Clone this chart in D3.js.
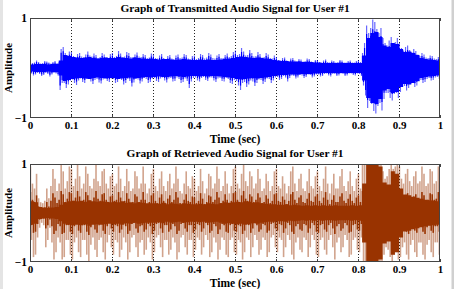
<!DOCTYPE html>
<html>
<head>
<meta charset="utf-8">
<script src="https://cdn.jsdelivr.net/npm/d3@7"></script>
<style>
  html, body { margin: 0; padding: 0; background: #fff; }
  svg { display: block; }
  .lbl { font-family: "Liberation Serif", "Times New Roman", serif; font-weight: bold; fill: #000; }
</style>
</head>
<body>
<div id="chart"></div>
<script>
// time axis ticks (sec)
const xTicks = [0, 0.1, 0.2, 0.3, 0.4, 0.5, 0.6, 0.7, 0.8, 0.9, 1];
const yTicks = [-1, 1];
const coreStep = 0.01;   // core values: one per 0.01 s
const peakStep = 0.005;  // peak values: one per 0.005 s

// transmitted signal (blue)
const txCore = [
  .07,.08,.08,.08,.07,.08,.08,.15,.26,.24, .22,.21,.2,.21,.22,.2,.19,.2,.21,.2,
  .2,.22,.21,.2,.19,.21,.2,.19,.18,.19, .18,.17,.18,.18,.17,.16,.17,.18,.17,.16,
  .16,.17,.16,.17,.16,.16,.17,.18,.19,.2, .22,.23,.22,.21,.2,.21,.2,.19,.18,.16,
  .15,.14,.14,.13,.13,.13,.12,.12,.12,.11, .11,.1,.1,.1,.1,.1,.1,.1,.1,.1,
  .1,.25,.6,.7,.72,.62,.45,.42,.5,.48, .38,.32,.33,.3,.26,.2,.18,.17,.16,.15
];
const txHi = [
  .13,.10,.11,.15,.12,.09,.10,.14,.13,.11,.09,.12,.14,.10,.12,.38,.42,.30,.26,.33,
  .32,.24,.22,.28,.30,.23,.21,.27,.33,.25,.23,.29,.26,.20,.22,.30,.27,.21,.20,.28,
  .30,.22,.24,.34,.29,.21,.23,.32,.30,.22,.21,.27,.31,.23,.22,.28,.26,.20,.21,.29,
  .27,.20,.19,.25,.28,.20,.18,.24,.26,.19,.18,.25,.27,.20,.21,.28,.26,.19,.18,.24,
  .25,.18,.20,.28,.26,.19,.21,.30,.27,.20,.19,.25,.28,.20,.20,.26,.29,.22,.24,.32,
  .35,.26,.28,.40,.33,.25,.26,.36,.30,.23,.24,.32,.28,.21,.22,.30,.27,.20,.19,.25,
  .22,.16,.15,.20,.21,.15,.14,.19,.20,.15,.13,.18,.17,.13,.14,.19,.18,.13,.12,.16,
  .16,.12,.11,.15,.17,.12,.11,.15,.14,.11,.12,.16,.15,.11,.11,.14,.15,.11,.11,.14,
  .15,.12,.30,.50,.85,.70,.80,.97,.92,.78,.70,.80,.60,.50,.45,.55,.62,.50,.52,.60,
  .50,.40,.35,.42,.45,.36,.32,.38,.34,.27,.24,.30,.27,.21,.20,.25,.24,.19,.18,.22
];
const txLo = [
  -.11,-.15,-.13,-.10,-.12,-.16,-.14,-.10,-.12,-.17,-.13,-.10,-.11,-.15,-.44,-.30,-.30,-.40,-.33,-.25,
  -.23,-.30,-.34,-.25,-.21,-.28,-.30,-.22,-.20,-.27,-.32,-.24,-.22,-.29,-.31,-.23,-.20,-.26,-.28,-.21,
  -.22,-.30,-.28,-.21,-.24,-.33,-.30,-.22,-.26,-.37,-.29,-.22,-.23,-.31,-.27,-.20,-.22,-.30,-.28,-.21,
  -.20,-.26,-.28,-.21,-.19,-.25,-.29,-.21,-.20,-.27,-.26,-.19,-.22,-.30,-.28,-.21,-.26,-.40,-.27,-.20,
  -.19,-.25,-.27,-.20,-.18,-.24,-.26,-.19,-.19,-.25,-.28,-.21,-.20,-.26,-.27,-.20,-.22,-.30,-.32,-.24,
  -.26,-.35,-.44,-.30,-.28,-.38,-.33,-.25,-.27,-.36,-.30,-.23,-.24,-.32,-.28,-.21,-.22,-.30,-.25,-.19,
  -.18,-.24,-.22,-.16,-.19,-.27,-.20,-.15,-.16,-.21,-.19,-.14,-.15,-.20,-.18,-.13,-.14,-.19,-.17,-.13,
  -.13,-.17,-.16,-.12,-.11,-.15,-.17,-.12,-.12,-.16,-.15,-.11,-.12,-.16,-.15,-.11,-.11,-.14,-.15,-.11,
  -.12,-.16,-.35,-.55,-.80,-.66,-.72,-.86,-.91,-.76,-.70,-.85,-.62,-.50,-.50,-.60,-.65,-.52,-.50,-.60,
  -.48,-.38,-.36,-.45,-.40,-.32,-.30,-.38,-.35,-.27,-.24,-.30,-.28,-.22,-.20,-.25,-.24,-.19,-.18,-.22
];

// retrieved signal (brown)
const rxCore = [
  .24,.22,.12,.11,.1,.11,.12,.17,.22,.24, .25,.24,.25,.23,.26,.24,.23,.24,.23,.22,
  .23,.22,.24,.21,.22,.2,.22,.21,.2,.2, .2,.19,.21,.18,.2,.19,.18,.2,.19,.18,
  .18,.19,.18,.2,.19,.18,.2,.22,.21,.22, .23,.22,.24,.23,.21,.22,.2,.19,.18,.18,
  .17,.17,.18,.16,.17,.16,.15,.16,.15,.16, .15,.16,.15,.15,.16,.15,.15,.15,.16,.15,
  .16,.6,1,1,1,.95,.62,.58,.85,.8, .5,.38,.36,.33,.31,.29,.27,.26,.25,.24
];
const rxHi = [
  .95,.60,.50,.80,.30,.22,.20,.25,.50,.30,.55,.90,.70,.45,.60,1.0,.85,.50,.65,.95,
  .90,.55,.70,1.0,.75,.50,.60,.95,.80,.55,.50,.70,1.0,.65,.55,.85,.90,.60,.50,.75,
  .80,.55,.60,.95,.70,.45,.55,.90,.65,.45,.50,.85,.75,.50,.60,.95,.60,.40,.50,.80,
  .90,.55,.45,.70,.85,.55,.45,.65,.80,.50,.60,.95,.70,.45,.40,.60,.85,.55,.50,.75,
  .70,.45,.55,.90,.65,.40,.50,.80,.75,.50,.60,.95,.70,.45,.55,.85,.60,.40,.55,.90,
  .95,.60,.50,.80,1.0,.65,.55,.85,.75,.50,.60,.90,.70,.45,.50,.80,.65,.45,.55,.85,
  .90,.55,.50,.75,.60,.40,.55,.85,.95,.60,.45,.70,.80,.50,.45,.65,.90,.55,.50,.75,
  .85,.55,.45,.70,.95,.60,.40,.60,.80,.50,.50,.75,.90,.55,.45,.65,.85,.55,.45,.70,
  .80,.50,1.0,1.0,1.0,1.0,1.0,1.0,1.0,1.0,1.0,1.0,.85,.70,.75,.90,1.0,.90,.95,1.0,
  .95,.70,.60,.80,.90,.65,.55,.75,.85,.60,.65,.95,.80,.55,.60,.90,.85,.60,.65,.95
];
const rxLo = [
  -.55,-.90,-.85,-.50,-.30,-.20,-.25,-.70,-.55,-.30,-.60,-.95,-.80,-.50,-.60,-.95,-.90,-.55,-.55,-.85,
  -.95,-.60,-.50,-.80,-.90,-.55,-.55,-.85,-1.0,-.65,-.50,-.75,-.90,-.55,-.50,-.80,-.95,-.60,-.45,-.70,
  -.85,-.55,-.60,-.90,-.75,-.50,-.60,-.95,-.80,-.50,-.45,-.70,-.90,-.60,-.55,-.85,-.75,-.50,-.60,-.95,
  -.80,-.50,-.45,-.70,-.90,-.55,-.55,-.85,-.75,-.50,-.60,-.95,-.80,-.50,-.45,-.70,-.85,-.55,-.55,-.90,
  -.75,-.50,-.55,-.85,-.70,-.45,-.55,-.90,-.80,-.50,-.60,-.95,-.75,-.50,-.55,-.85,-.90,-.55,-.50,-.80,
  -.85,-.55,-.60,-.95,-.80,-.50,-.55,-.90,-.70,-.45,-.55,-.85,-.75,-.50,-.55,-.90,-.80,-.50,-.45,-.70,
  -.80,-.50,-.55,-.90,-.70,-.45,-.55,-.85,-.95,-.60,-.50,-.75,-.80,-.50,-.55,-.90,-.70,-.45,-.55,-.85,
  -.90,-.55,-.50,-.75,-.85,-.55,-.45,-.70,-.95,-.60,-.50,-.80,-.70,-.45,-.55,-.90,-.85,-.55,-.50,-.75,
  -.80,-.50,-1.0,-1.0,-1.0,-1.0,-1.0,-1.0,-1.0,-1.0,-1.0,-1.0,-.85,-.70,-.75,-.90,-1.0,-.85,-.80,-.95,
  -.90,-.70,-.60,-.85,-.95,-.65,-.55,-.80,-.90,-.60,-.60,-.85,-.95,-.65,-.55,-.80,-.90,-.60,-.60,-.85
];

const W = 454, H = 289;
const svg = d3.select('#chart').append('svg').attr('width', W).attr('height', H);

// light frame around the figure
svg.append('rect').attr('x', 0).attr('y', 0).attr('width', 3).attr('height', H).attr('fill', '#e4e4e4');
svg.append('rect').attr('x', 451.5).attr('y', 0).attr('width', 2.5).attr('height', H).attr('fill', '#d0d0d0');

const x = d3.scaleLinear().domain([0, 1]).range([30, 440]);

function drawPanel(opt) {
  const y = d3.scaleLinear().domain([-1, 1]).range([opt.bottom, opt.top]);
  const g = svg.append('g');
  const clipId = 'clip' + opt.top;
  svg.append('clipPath').attr('id', clipId)
    .append('rect').attr('x', x(0)).attr('y', opt.top).attr('width', x(1) - x(0)).attr('height', opt.bottom - opt.top);

  // dotted grid
  g.append('g').selectAll('line').data(xTicks.slice(1, -1)).join('line')
    .attr('x1', d => Math.round(x(d)) + 0.5).attr('x2', d => Math.round(x(d)) + 0.5)
    .attr('y1', opt.top).attr('y2', opt.bottom)
    .attr('stroke', '#222').attr('stroke-width', 1).attr('stroke-dasharray', '1,2');

  const wave = g.append('g').attr('clip-path', `url(#${clipId})`);
  const peaks = opt.hi.map((v, i) => ({ v, t: (i + 0.2) * peakStep }))
    .concat(opt.lo.map((v, i) => ({ v, t: (i + 0.7) * peakStep })));

  // spike tips: light, thin strands
  wave.append('g').selectAll('line').data(peaks).join('line')
    .attr('x1', d => x(d.t)).attr('x2', d => x(d.t))
    .attr('y1', y(0)).attr('y2', d => y(d.v))
    .attr('stroke', opt.color).attr('stroke-width', opt.spikeWidth).attr('stroke-opacity', opt.spikeOpacity);
  // spike bodies: where strands overlap near the centre they read as solid
  wave.append('g').selectAll('line').data(peaks).join('line')
    .attr('x1', d => x(d.t)).attr('x2', d => x(d.t))
    .attr('y1', y(0)).attr('y2', d => y(d.v * opt.darkFrac))
    .attr('stroke', opt.color).attr('stroke-width', opt.spikeWidth);

  // dense core of the signal
  const area = d3.area()
    .curve(d3.curveStep)
    .x(d => x(d.t))
    .y0(d => y(-d.c))
    .y1(d => y(d.c));
  const pts = opt.core.map((c, i) => ({ t: (i + 0.5) * coreStep, c }));
  pts.unshift({ t: 0, c: opt.core[0] });
  pts.push({ t: 1, c: opt.core[opt.core.length - 1] });
  wave.append('path').datum(pts).attr('d', area).attr('fill', opt.color);

  // axes box
  g.append('rect').attr('x', x(0) + 0.5).attr('y', opt.top + 0.5)
    .attr('width', x(1) - x(0) - 1).attr('height', opt.bottom - opt.top - 1)
    .attr('fill', 'none').attr('stroke', '#444').attr('stroke-width', 1);

  const xAxis = g.append('g').attr('transform', `translate(0,${opt.bottom})`)
    .call(d3.axisBottom(x).tickValues(xTicks).tickFormat(d3.format('~g')).tickSizeInner(-3).tickSizeOuter(0).tickPadding(3));
  xAxis.select('.domain').remove();
  xAxis.selectAll('line').attr('stroke', '#444');
  xAxis.selectAll('text').attr('class', 'lbl').style('font-size', '11px');

  const topAxis = g.append('g').attr('transform', `translate(0,${opt.top})`)
    .call(d3.axisTop(x).tickValues(xTicks).tickFormat('').tickSizeInner(-3).tickSizeOuter(0));
  topAxis.select('.domain').remove();
  topAxis.selectAll('line').attr('stroke', '#444');

  const yAxis = g.append('g').attr('transform', `translate(${x(0)},0)`)
    .call(d3.axisLeft(y).tickValues(yTicks).tickFormat(d3.format('d')).tickSizeInner(0).tickSizeOuter(0).tickPadding(3));
  yAxis.select('.domain').remove();
  yAxis.selectAll('text').attr('class', 'lbl').style('font-size', '11.5px');

  svg.append('text').attr('class', 'lbl').attr('x', 235).attr('y', opt.titleY)
    .attr('text-anchor', 'middle').style('font-size', '11.4px').text(opt.title);
  svg.append('text').attr('class', 'lbl').attr('x', 235).attr('y', opt.bottom + 24.5)
    .attr('text-anchor', 'middle').style('font-size', '11.5px').text('Time (sec)');
  svg.append('text').attr('class', 'lbl')
    .attr('transform', `translate(12,${(opt.top + opt.bottom) / 2}) rotate(-90)`)
    .attr('text-anchor', 'middle').style('font-size', '11px').text('Amplitude');
}

drawPanel({
  top: 18, bottom: 118, titleY: 12,
  title: 'Graph of Transmitted Audio Signal for User #1',
  core: txCore, hi: txHi, lo: txLo, color: '#0000ff',
  spikeOpacity: 0.6, spikeWidth: 1.2, darkFrac: 0.8
});
drawPanel({
  top: 164, bottom: 262, titleY: 157,
  title: 'Graph of Retrieved Audio Signal for User #1',
  core: rxCore, hi: rxHi, lo: rxLo, color: '#993300',
  spikeOpacity: 0.45, spikeWidth: 1.6, darkFrac: 0.45
});
</script>
</body>
</html>
